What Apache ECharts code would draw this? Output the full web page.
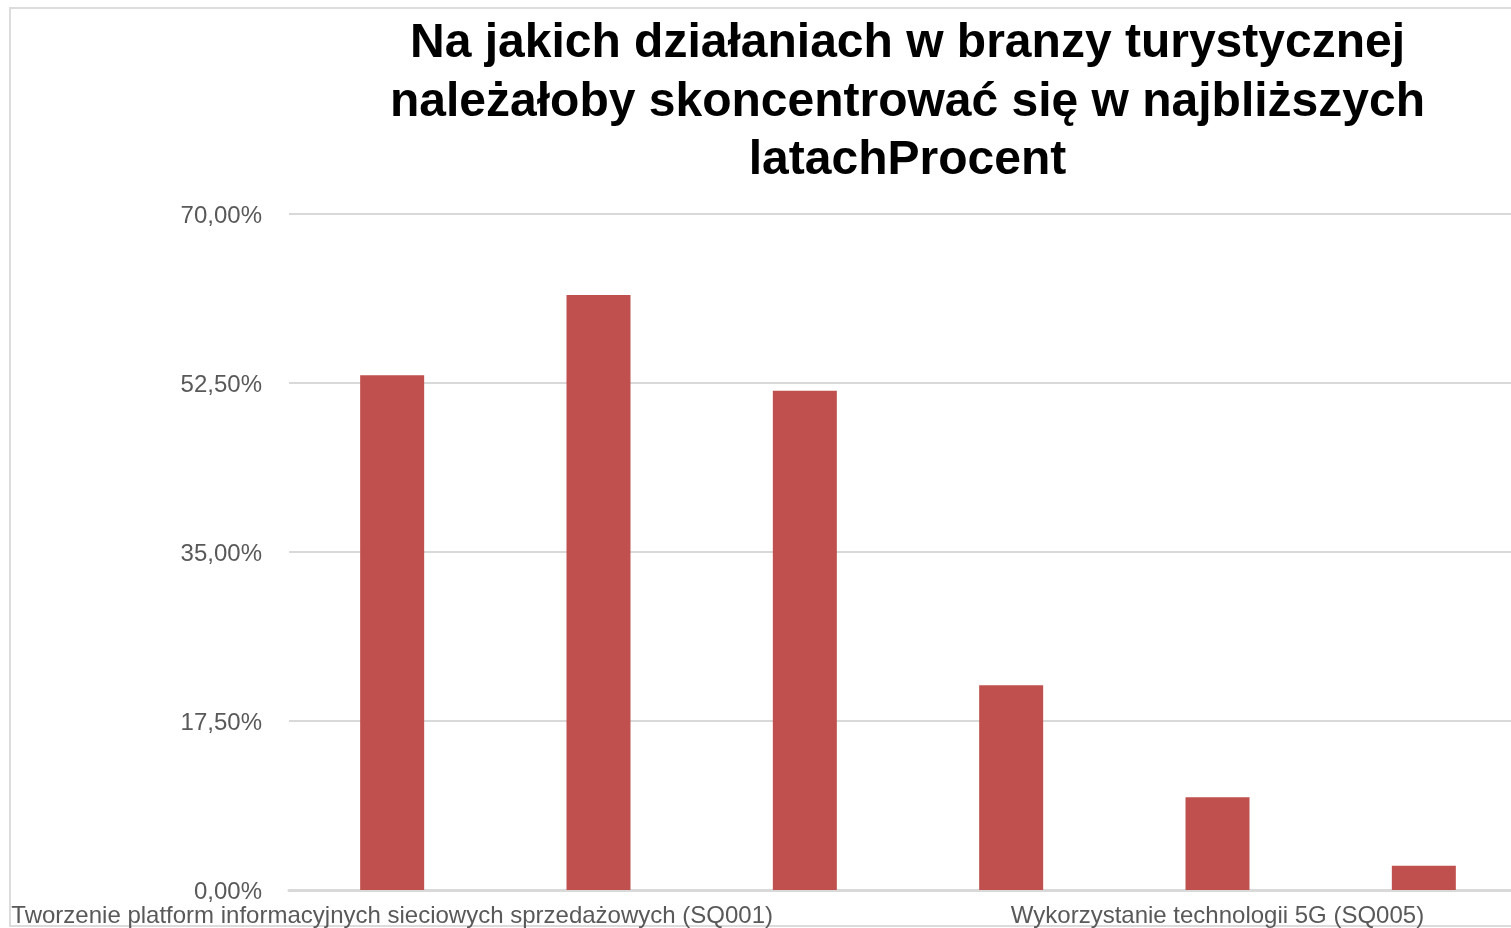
<!DOCTYPE html>
<html>
<head>
<meta charset="utf-8">
<script src="https://cdn.jsdelivr.net/npm/echarts@6/dist/echarts.min.js"></script>
<style>
  html, body { margin: 0; padding: 0; background: #fff; overflow: hidden; }
  #chart { position: absolute; left: 0; top: 0; width: 1815px; height: 928px; }
</style>
</head>
<body>
<div id="chart"></div>
<script>
// dane wykresu
var categories = [
	'Tworzenie platform informacyjnych sieciowych sprzedażowych (SQ001)',
	'Wykorzystanie sztucznej inteligencji (SQ002)',
	'Rozwój turystyki zrównoważonej (SQ003)',
	'Cyfryzacja usług turystycznych (SQ004)',
	'Wykorzystanie technologii 5G (SQ005)',
	'Inne (SQ006)'
];
var values = [53.3, 61.6, 51.7, 21.2, 9.6, 2.5];
var yTicks = [0, 17.5, 35, 52.5, 70];

var fontFamily = '"Liberation Sans", Arial, Helvetica, sans-serif';
var myChart = echarts.init(document.getElementById('chart'));
var option;
option = {
	backgroundColor: '#fff',
	animation: false,
	graphic: [{
		type: 'rect',
		z: -10,
		shape: { x: 10, y: 8, width: 1700, height: 918 },
		style: { fill: 'none', stroke: '#dcdcdc', lineWidth: 2 }
	}],
	title: {
		text: 'Na jakich działaniach w branzy turystycznej\nnależałoby skoncentrować się w najbliższych\nlatachProcent',
		left: 'center',
		top: 10,
		textStyle: {
			fontFamily: fontFamily,
			fontSize: 48,
			fontWeight: 'bold',
			color: '#000',
			lineHeight: 58.5
		}
	},
	grid: {
		left: 289,
		right: 288,
		top: 214,
		bottom: 38
	},
	xAxis: {
		type: 'category',
		data: categories,
		axisLine: { lineStyle: { color: '#d9d9d9', width: 3 } },
		axisTick: { show: false },
		axisLabel: {
			interval: 3,
			margin: 14,
			fontFamily: fontFamily,
			fontSize: 24,
			color: '#595959'
		}
	},
	yAxis: {
		type: 'value',
		min: yTicks[0],
		max: yTicks[yTicks.length - 1],
		interval: yTicks[1] - yTicks[0],
		axisLine: { show: false },
		axisTick: { show: false },
		splitLine: { lineStyle: { color: '#d9d9d9', width: 2 } },
		axisLabel: {
			margin: 27,
			formatter: function (v) {
				return '{a|' + v.toFixed(2).replace('.', ',') + '%}';
			},
			rich: {
				a: {
					fontFamily: fontFamily,
					fontSize: 24,
					color: '#595959',
					padding: [5, 0, 0, 0]
				}
			}
		}
	},
	series: [{
		type: 'bar',
		data: values,
		barWidth: 64,
		itemStyle: { color: '#c0504d' }
	}]
};
option && myChart.setOption(option);
</script>
</body>
</html>
